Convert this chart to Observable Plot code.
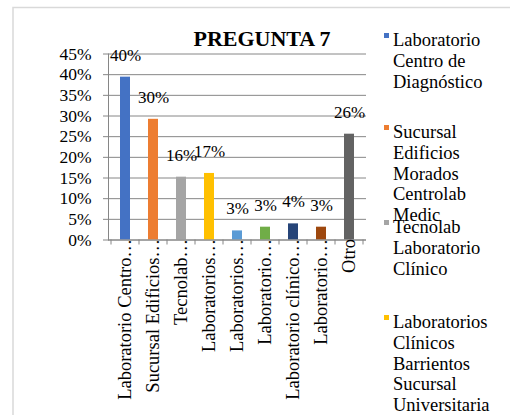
<!DOCTYPE html>
<html><head><meta charset="utf-8">
<script src="https://cdn.jsdelivr.net/npm/d3@7"></script>
<script src="https://cdn.jsdelivr.net/npm/@observablehq/plot@0.6"></script>
<style>
body{margin:0;background:#fff}
#chart{position:relative;width:510px;height:415px;overflow:hidden}
</style>
</head><body><div id="chart"></div>
<script>
const title = "PREGUNTA 7";
const tickLabels = ["Laboratorio Centro…", "Sucursal Edificios…", "Tecnolab…", "Laboratorios…", "Laboratorios…", "Laboratorio…", "Laboratorio clínico…", "Laboratorio…", "Otro"];
const values = [0.394, 0.292, 0.152, 0.161, 0.022, 0.031, 0.039, 0.031, 0.256];
const valueLabels = ["40%", "30%", "16%", "17%", "3%", "3%", "4%", "3%", "26%"];
const colors = ["#4472C4", "#ED7D31", "#A5A5A5", "#FFC000", "#5B9BD5", "#70AD47", "#264478", "#9E480E", "#636363"];
const yTicks = [0, 0.05, 0.10, 0.15, 0.20, 0.25, 0.30, 0.35, 0.40, 0.45];
const legendLines = [
  ["Laboratorio", "Centro de", "Diagnóstico"],
  ["Sucursal", "Edificios", "Morados", "Centrolab", "Medic"],
  ["Tecnolab", "Laboratorio", "Clínico"],
  ["Laboratorios", "Clínicos", "Barrientos", "Sucursal", "Universitaria"]
];

const FONT = "'Liberation Serif', 'Times New Roman', serif";
const GRID = "#868686";
const data = values.map((v, i) => ({i, v, label: valueLabels[i]}));

const plot = Plot.plot({
  width: 510, height: 415,
  marginLeft: 108, marginRight: 144, marginTop: 53.5, marginBottom: 175.5,
  style: {fontFamily: FONT, fontSize: "17px", color: "#000", background: "#fff", overflow: "visible"},
  x: {type: "band", domain: d3.range(values.length), paddingInner: 0.65, paddingOuter: 0.325, label: null},
  y: {domain: [0, 0.45], label: null},
  color: {type: "ordinal", domain: d3.range(values.length), range: colors},
  marks: [
    Plot.gridY(yTicks, {stroke: GRID, strokeOpacity: 1, strokeWidth: 1}),
    Plot.barY(data, {x: "i", y: "v", fill: "i"}),
    Plot.axisY(yTicks, {text: null, tickSize: 5, stroke: GRID, strokeOpacity: 1}),
    Plot.axisY(yTicks, {tickSize: 0, tickPadding: 17, tickFormat: d => Math.round(d * 100) + "%", fontSize: 17.5, fill: "#000"}),
    Plot.frame({anchor: "left", stroke: GRID}),
    Plot.ruleY([0], {stroke: GRID}),
    Plot.axisX({tickSize: 0, tickPadding: -1, tickRotate: -90, tickFormat: i => tickLabels[i], fontSize: 18.5, fill: "#000"}),
    Plot.text(data, {x: "i", y: "v", text: "label", dy: -22, lineAnchor: "middle", fontSize: 17, fill: "#000"})
  ]
});

document.getElementById("chart").appendChild(plot);
const svg = d3.select(plot);

// outer frame (chart area border)
svg.insert("rect", ":first-child")
  .attr("x", 13).attr("y", 7.5).attr("width", 520).attr("height", 430)
  .attr("fill", "#fff").attr("stroke", "#d9d9d9").attr("stroke-width", 1.5);

// category boundary ticks on x axis
const xs = plot.scale("x");
const yS = plot.scale("y");
const y0 = yS.apply(0);
const gap = (xs.step - xs.bandwidth) / 2;
const bounds = d3.range(values.length + 1).map(i => i < values.length ? xs.apply(i) - gap : xs.apply(values.length - 1) + xs.bandwidth + gap);
svg.append("g").selectAll("line").data(bounds).join("line")
  .attr("x1", d => d).attr("x2", d => d).attr("y1", y0).attr("y2", y0 + 5)
  .attr("stroke", GRID);

// title
svg.append("text").attr("x", 262).attr("y", 45.7).attr("text-anchor", "middle")
  .attr("font-family", FONT).attr("font-size", 22).attr("font-weight", "bold").attr("fill", "#000")
  .text(title);

// legend
const legendY = [46, 138, 233, 328];
const lg = svg.append("g").attr("font-family", FONT).attr("font-size", 18.5).attr("fill", "#000").attr("text-anchor", "start");
legendLines.forEach((lines, k) => {
  lg.append("rect").attr("x", 384).attr("y", legendY[k] - 13).attr("width", 5).attr("height", 5).attr("fill", colors[k]);
  const t = lg.append("text").attr("x", 393).attr("y", legendY[k]);
  lines.forEach((ln, j) => t.append("tspan").attr("x", 393).attr("y", legendY[k] + j * 20.8).text(ln));
});
</script>
</body></html>
